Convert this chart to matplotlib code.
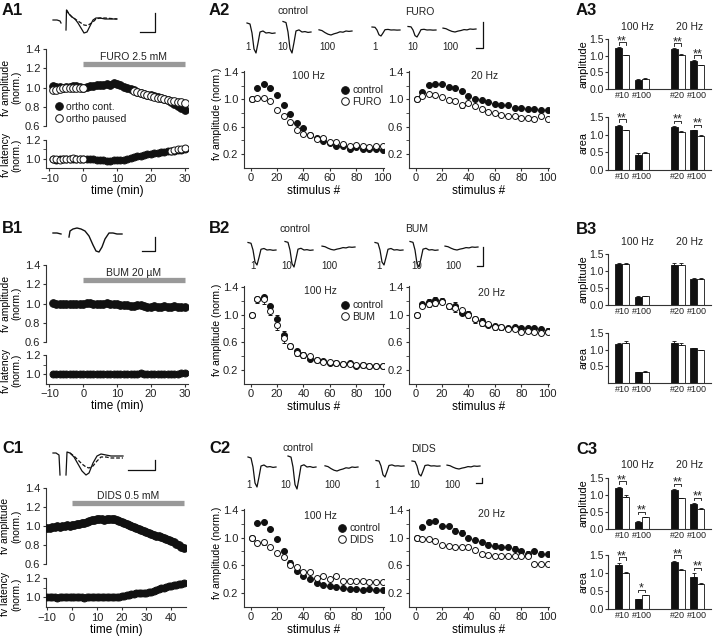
import numpy as np
import matplotlib
matplotlib.use("Agg")
import matplotlib.pyplot as plt
from matplotlib.lines import Line2D
from matplotlib.ticker import FormatStrFormatter

plt.rcParams.update({
    "font.family": ["Liberation Sans", "DejaVu Sans"],
    "font.size": 7,
    "axes.linewidth": 0.8,
    "axes.edgecolor": "#333333",
    "xtick.color": "#333333",
    "ytick.color": "#333333",
    "xtick.labelcolor": "#222222",
    "ytick.labelcolor": "#222222",
    "xtick.labelsize": 8,
    "ytick.labelsize": 8,
    "xtick.major.size": 2.5,
    "ytick.major.size": 2.5,
    "ytick.minor.size": 2.5,
    "xtick.major.pad": 1.5,
    "ytick.major.pad": 1.5,
    "text.color": "#222222",
})

# ---------------- data ----------------
# time courses (min)
a1_time = list(range(-9, 31))
a1_cont = [1.02, 1.01, 1.01, 1.00, 1.01, 1.01, 1.02, 1.02, 1.01, 1.00,
           1.01, 1.02, 1.02, 1.03, 1.03, 1.03, 1.04, 1.03, 1.05, 1.04,
           1.03, 1.01, 0.99, 0.98, 0.97, 0.95, 0.94, 0.93, 0.92, 0.92,
           0.91, 0.90, 0.89, 0.88, 0.87, 0.85, 0.83, 0.81, 0.79, 0.77]
a1_cont_err = [0.01] * 20 + [0.02, 0.02, 0.02, 0.02, 0.02, 0.03, 0.02, 0.03, 0.03, 0.02,
                             0.03, 0.03, 0.02, 0.03, 0.03, 0.03, 0.03, 0.03, 0.03, 0.03]
a1_paused_time = [-9, -8, -7, -6, -5, -4, -3, -2, -1, 0,
                  15, 16, 17, 18, 19, 20, 21, 22, 23, 24, 25, 26, 27, 28, 29, 30]
a1_paused = [0.97, 0.97, 0.98, 0.99, 0.99, 0.99, 1.00, 1.00, 1.00, 1.00,
             0.96, 0.95, 0.94, 0.93, 0.92, 0.91, 0.90, 0.89, 0.89, 0.88,
             0.87, 0.86, 0.86, 0.85, 0.85, 0.84]
a1_paused_err = [0.01] * 10 + [0.03] * 16
a1_lat_cont = [1.00, 0.99, 1.00, 1.00, 1.00, 1.00, 1.00, 1.00, 1.00, 1.00,
               1.00, 1.00, 1.00, 0.99, 0.99, 0.99, 0.98, 0.98, 0.99, 0.99,
               0.99, 0.99, 1.00, 1.01, 1.02, 1.03, 1.03, 1.04, 1.05, 1.05,
               1.06, 1.06, 1.07, 1.07, 1.08, 1.08, 1.08, 1.09, 1.09, 1.10]
a1_lat_paused_time = [-9, -8, -7, -6, -5, -4, -3, -2, -1, 0, 26, 27, 28, 29, 30]
a1_lat_paused = [1.00, 1.00, 0.99, 1.00, 1.00, 1.00, 1.01, 1.00, 1.00, 1.00,
                 1.08, 1.09, 1.10, 1.10, 1.11]

b1_time = list(range(-9, 31))
b1_amp = [1.01, 1.00, 0.99, 1.00, 1.00, 0.99, 1.00, 1.00, 1.00, 1.00,
          1.01, 1.01, 1.00, 1.00, 1.00, 1.00, 1.01, 1.00, 0.99, 0.99,
          0.98, 0.98, 0.98, 0.97, 0.97, 0.98, 0.98, 0.97, 0.96, 0.96,
          0.97, 0.96, 0.96, 0.97, 0.96, 0.96, 0.97, 0.96, 0.96, 0.96]
b1_lat = [1.00, 1.00, 1.00, 1.00, 1.00, 1.00, 1.00, 1.00, 1.00, 1.00,
          1.00, 1.00, 1.00, 1.00, 1.00, 1.00, 1.00, 1.00, 1.00, 1.00,
          1.00, 1.00, 1.00, 1.00, 1.00, 1.00, 1.01, 1.00, 1.00, 1.00,
          1.00, 1.00, 1.00, 1.00, 1.00, 1.00, 1.00, 1.00, 1.01, 1.01]

c1_time = list(range(-10, 46))
c1_amp = [0.98, 0.98, 0.99, 0.99, 1.00, 0.99, 1.00, 1.00, 1.01, 1.00,
          1.01, 1.01, 1.02, 1.02, 1.03, 1.03, 1.04, 1.05, 1.06, 1.06,
          1.07, 1.07, 1.07, 1.06, 1.07, 1.07, 1.07, 1.07, 1.06, 1.05,
          1.04, 1.03, 1.02, 1.01, 1.00, 0.99, 0.98, 0.97, 0.96, 0.95,
          0.94, 0.93, 0.92, 0.91, 0.90, 0.89, 0.88, 0.87, 0.86, 0.85,
          0.84, 0.83, 0.81, 0.80, 0.78, 0.77]
c1_lat = [1.00, 1.00, 1.00, 1.00, 0.99, 1.00, 1.00, 1.00, 1.00, 1.00,
          1.00, 1.00, 1.00, 1.00, 1.00, 0.99, 1.00, 1.00, 1.00, 1.00,
          1.00, 1.00, 1.00, 1.00, 1.00, 1.00, 1.00, 1.00, 1.00, 1.00,
          1.01, 1.01, 1.02, 1.02, 1.03, 1.03, 1.04, 1.04, 1.05, 1.05,
          1.05, 1.06, 1.06, 1.07, 1.08, 1.09, 1.10, 1.10, 1.11, 1.12,
          1.12, 1.13, 1.13, 1.14, 1.14, 1.15]

# stimulus trains
stim = [1, 5, 10, 15, 20, 25, 30, 35, 40, 45, 50, 55, 60, 65, 70, 75, 80, 85, 90, 95, 100]

a2_100_ctrl = [1.00, 1.17, 1.23, 1.17, 1.06, 0.91, 0.78, 0.65, 0.58, 0.48, 0.43,
               0.39, 0.36, 0.32, 0.32, 0.28, 0.31, 0.28, 0.27, 0.27, 0.26]
a2_100_drug = [1.00, 1.02, 1.02, 0.97, 0.84, 0.75, 0.67, 0.55, 0.50, 0.48, 0.42,
               0.43, 0.38, 0.38, 0.35, 0.32, 0.33, 0.32, 0.30, 0.32, 0.32]
a2_20_ctrl = [1.00, 1.11, 1.21, 1.22, 1.22, 1.18, 1.16, 1.12, 1.05, 1.01, 0.99,
              0.96, 0.93, 0.92, 0.92, 0.88, 0.88, 0.86, 0.86, 0.84, 0.85]
a2_20_drug = [1.00, 1.05, 1.08, 1.06, 1.03, 0.99, 0.98, 0.92, 0.94, 0.90, 0.86,
              0.81, 0.80, 0.77, 0.75, 0.75, 0.73, 0.73, 0.71, 0.75, 0.71]
a2_100_ctrl_err = [0, 0.02, 0.03, 0.02, 0.02, 0.03, 0.04, 0.04, 0.03, 0.02, 0.02,
                   0.02, 0.02, 0.02, 0.02, 0.02, 0.02, 0.02, 0.02, 0.02, 0.02]
a2_100_drug_err = [0, 0.02, 0.02, 0.02, 0.03, 0.03, 0.05, 0.03, 0.02, 0.02, 0.02,
                   0.02, 0.02, 0.02, 0.02, 0.02, 0.02, 0.02, 0.02, 0.02, 0.02]
a2_20_ctrl_err = [0, 0.02, 0.02, 0.01, 0.01, 0.01, 0.02, 0.02, 0.02, 0.01, 0.01,
                  0.01, 0.01, 0.01, 0.01, 0.01, 0.01, 0.01, 0.01, 0.01, 0.01]
a2_20_drug_err = [0, 0.02, 0.03, 0.02, 0.02, 0.02, 0.03, 0.05, 0.03, 0.02, 0.02,
                  0.02, 0.02, 0.02, 0.02, 0.02, 0.02, 0.02, 0.02, 0.02, 0.02]

b2_100_ctrl = [1.00, 1.22, 1.25, 1.12, 0.94, 0.71, 0.54, 0.47, 0.42, 0.36, 0.35,
               0.33, 0.30, 0.30, 0.28, 0.30, 0.26, 0.27, 0.26, 0.26, 0.26]
b2_100_drug = [1.00, 1.22, 1.22, 1.05, 0.85, 0.66, 0.55, 0.45, 0.42, 0.40, 0.34,
               0.32, 0.31, 0.30, 0.28, 0.28, 0.27, 0.27, 0.26, 0.26, 0.26]
b2_20_ctrl = [1.00, 1.15, 1.18, 1.21, 1.20, 1.12, 1.13, 1.03, 1.01, 0.93, 0.91,
              0.85, 0.84, 0.82, 0.80, 0.82, 0.81, 0.80, 0.80, 0.79, 0.77]
b2_20_drug = [1.00, 1.12, 1.15, 1.17, 1.19, 1.12, 1.09, 1.06, 1.00, 0.94, 0.88,
              0.86, 0.82, 0.82, 0.79, 0.79, 0.75, 0.76, 0.75, 0.74, 0.75]
b2_100_ctrl_err = [0, 0.04, 0.04, 0.04, 0.05, 0.05, 0.04, 0.04, 0.04, 0.03, 0.03,
                   0.03, 0.02, 0.02, 0.02, 0.02, 0.02, 0.02, 0.02, 0.02, 0.02]
b2_100_drug_err = [0, 0.05, 0.06, 0.06, 0.07, 0.07, 0.05, 0.05, 0.04, 0.03, 0.03,
                   0.03, 0.02, 0.02, 0.02, 0.02, 0.02, 0.02, 0.02, 0.02, 0.02]
b2_20_ctrl_err = [0, 0.03, 0.04, 0.04, 0.04, 0.04, 0.05, 0.04, 0.04, 0.04, 0.04,
                  0.04, 0.03, 0.03, 0.03, 0.03, 0.03, 0.03, 0.03, 0.03, 0.03]
b2_20_drug_err = [0, 0.03, 0.04, 0.04, 0.04, 0.04, 0.05, 0.06, 0.05, 0.06, 0.05,
                  0.04, 0.04, 0.04, 0.03, 0.03, 0.03, 0.03, 0.03, 0.03, 0.03]

c2_100_ctrl = [1.00, 1.21, 1.22, 1.12, 0.98, 0.80, 0.64, 0.52, 0.45, 0.40, 0.35,
               0.32, 0.30, 0.28, 0.27, 0.26, 0.26, 0.25, 0.26, 0.24, 0.24]
c2_100_drug = [1.00, 0.92, 0.94, 0.87, 0.78, 0.72, 0.61, 0.58, 0.50, 0.50, 0.41,
               0.44, 0.40, 0.44, 0.38, 0.38, 0.37, 0.38, 0.36, 0.36, 0.36]
c2_20_ctrl = [1.00, 1.16, 1.22, 1.24, 1.17, 1.17, 1.10, 1.07, 0.99, 0.96, 0.93,
              0.89, 0.88, 0.86, 0.86, 0.84, 0.81, 0.77, 0.81, 0.77, 0.76]
c2_20_drug = [1.00, 0.98, 0.98, 0.95, 0.89, 0.88, 0.87, 0.86, 0.86, 0.82, 0.76,
              0.75, 0.73, 0.73, 0.73, 0.73, 0.73, 0.73, 0.62, 0.62, 0.62]
c2_100_ctrl_err = [0, 0.03, 0.04, 0.04, 0.03, 0.04, 0.03, 0.03, 0.03, 0.02, 0.02,
                   0.02, 0.02, 0.01, 0.01, 0.01, 0.01, 0.01, 0.01, 0.01, 0.01]
c2_100_drug_err = [0, 0.03, 0.04, 0.03, 0.03, 0.03, 0.02, 0.02, 0.02, 0.02, 0.02,
                   0.02, 0.02, 0.02, 0.02, 0.02, 0.02, 0.02, 0.02, 0.02, 0.02]
c2_20_ctrl_err = [0, 0.02, 0.02, 0.02, 0.03, 0.03, 0.04, 0.04, 0.04, 0.04, 0.04,
                  0.04, 0.04, 0.03, 0.04, 0.04, 0.03, 0.03, 0.03, 0.03, 0.03]
c2_20_drug_err = [0, 0.02, 0.02, 0.02, 0.02, 0.02, 0.03, 0.03, 0.03, 0.03, 0.02,
                  0.02, 0.02, 0.02, 0.02, 0.02, 0.03, 0.02, 0.02, 0.02, 0.02]

# bar summaries: 100 Hz #10, #100, 20 Hz #20, #100
bar_labels = ["#10", "#100", "#20", "#100"]
a3_amp_ctrl = [1.22, 0.27, 1.20, 0.84]
a3_amp_drug = [1.02, 0.31, 1.03, 0.71]
a3_amp_ctrl_err = [0.03, 0.02, 0.02, 0.02]
a3_amp_drug_err = [0.01, 0.02, 0.03, 0.01]
a3_area_ctrl = [1.25, 0.43, 1.22, 1.12]
a3_area_drug = [1.12, 0.47, 1.07, 0.97]
a3_area_ctrl_err = [0.03, 0.05, 0.02, 0.01]
a3_area_drug_err = [0.01, 0.03, 0.02, 0.01]
a3_amp_sig = ["**", "", "**", "**"]
a3_area_sig = ["**", "", "**", "**"]

b3_amp_ctrl = [1.21, 0.25, 1.19, 0.77]
b3_amp_drug = [1.20, 0.26, 1.19, 0.76]
b3_amp_ctrl_err = [0.02, 0.01, 0.04, 0.01]
b3_amp_drug_err = [0.04, 0.01, 0.05, 0.03]
b3_area_ctrl = [1.17, 0.32, 1.21, 1.04]
b3_area_drug = [1.21, 0.34, 1.15, 0.98]
b3_area_ctrl_err = [0.02, 0.02, 0.04, 0.01]
b3_area_drug_err = [0.05, 0.03, 0.04, 0.02]
b3_amp_sig = ["", "", "", ""]
b3_area_sig = ["", "", "", ""]

c3_amp_ctrl = [1.21, 0.22, 1.16, 0.74]
c3_amp_drug = [0.95, 0.35, 0.90, 0.60]
c3_amp_ctrl_err = [0.04, 0.01, 0.02, 0.03]
c3_amp_drug_err = [0.04, 0.01, 0.01, 0.01]
c3_area_ctrl = [1.23, 0.27, 1.30, 0.88]
c3_area_drug = [1.00, 0.38, 1.07, 0.70]
c3_area_ctrl_err = [0.06, 0.02, 0.04, 0.12]
c3_area_drug_err = [0.02, 0.01, 0.03, 0.02]
c3_amp_sig = ["**", "**", "**", "**"]
c3_area_sig = ["**", "*", "**", "**"]

# example fibre volley traces (px offsets, positive = downward)
a1_tr_x = [0, 4, 7, 8, np.nan, 13, 13.5, 16, 19, 22, 25, 28, 31, 34, 37, 40, 43, 47, 52, 58, 64]
a1_tr_solid = [0, 0, 1, 3, np.nan, 10, -10, -6, -3, -1, 3, 8, 13, 12, 6, 0, -2, -2, -1, -1, -1]
a1_tr_dash = [np.nan, np.nan, np.nan, np.nan, np.nan, np.nan, -10, -6, -3, -1, 1, 3, 5, 5.5, 4, 2, -1, -2, -2, -1.5, -1]
b1_tr_x = [0, 4, 8, np.nan, 16, 17, 20, 24, 28, 32, 36, 40, 43, 46, 49, 52, 56, 60, 64, 69]
b1_tr = [0, 0, 1, np.nan, 4, -2, -4, -5, -4, -2, 3, 12, 18, 19, 14, 6, 0, 0, 1, 1]
c1_tr_x = [0, 3, 6, 7, np.nan, 13, 14, 17, 21, 25, 29, 33, 36, 40, 44, 48, 53, 58, 64, 70]
c1_tr_solid = [-2, -2, 0, 20, np.nan, 20, -3, -2, 2, 9, 16, 20, 18, 8, 1, -1, 0, 1, 1, 1]
c1_tr_dash = [np.nan] * 7 + [-2, 1, 5, 9, 12, 13, 11, 6, 2, 2, 3, 3, 3]

spike_x = [0, 3, 5, 7, 9, 11, 13, 16, 19, 22, 25, 28]
spike_shape = [0.5, 0.45, 0.0, -0.8, -1.0, -0.5, 0.05, 0.1, 0.0, 0.02, -0.02, 0.0]
late_x = [0, 3, 6, 9, 12, 15, 18, 21, 24, 27, 30, 33]
late_shape = [0.3, 0.1, -0.4, -0.8, -1.0, -0.7, -0.5, -0.2, -0.3, 0.0, -0.1, 0.0]
a2_trace_depth = [20, 21, 4, 6, 7, 3]
b2_trace_depth = [15, 17, 3, 15, 17, 3]
c2_trace_depth = [20, 22, 4, 11, 10, 3]

# ---------------- figure ----------------
W, H = 714, 637
fig = plt.figure(figsize=(W / 100, H / 100), dpi=100)

ov = fig.add_axes([0, 0, 1, 1])
ov.set_xlim(0, W)
ov.set_ylim(H, 0)
ov.axis("off")


def add_px(x0, y0, x1, y1):
    ax = fig.add_axes([x0 / W, 1 - y1 / H, (x1 - x0) / W, (y1 - y0) / H])
    ax.set_facecolor("none")
    ax.spines["top"].set_visible(False)
    ax.spines["right"].set_visible(False)
    return ax


def series(ax, x, y, err, filled, ms=5.5, label=None, sym=True):
    err = np.asarray(err, dtype=float)
    if sym:
        yerr = err
    elif filled:
        yerr = [np.zeros_like(err), err]
    else:
        yerr = [err, np.zeros_like(err)]
    ax.errorbar(x, y, yerr=yerr, fmt="o", ms=ms, mfc="#111111" if filled else "white",
                mec="#111111", mew=0.7, ecolor="#111111", elinewidth=0.6,
                capsize=1.5, capthick=0.6, label=label, zorder=3 if filled else 4)


def time_course(box, lat_box, xlim, xticks, amp_sets, lat_sets, drug, drug_end, ylabx):
    x0, x1 = box[0], box[1]
    ax = add_px(x0, box[2], x1, box[3])
    ax.spines["bottom"].set_visible(False)
    ax.set_xticks([])
    ax.set_xlim(xlim)
    ax.set_ylim(0.6, 1.4)
    ax.set_yticks([0.6, 0.8, 1.0, 1.2, 1.4])
    ax.yaxis.set_major_formatter(FormatStrFormatter("%.1f"))
    for s in amp_sets:
        series(ax, *s)
    ax.plot([0, drug_end], [1.24, 1.24], color="#999999", lw=3.8, solid_capstyle="butt")
    ax.text(drug_end / 2, 1.315, drug, ha="center", va="center", fontsize=7.5)
    ax.set_ylabel("fv amplitude\n(norm.)", fontsize=7.5, linespacing=1.15)
    ax.yaxis.set_label_coords(ylabx, 0.5)

    lx = add_px(x0, lat_box[0], x1, lat_box[1])
    lx.set_xlim(xlim)
    lx.set_ylim(0.9, 1.2)
    lx.set_yticks([1.0, 1.2])
    lx.set_yticks([1.1], minor=True)
    lx.yaxis.set_major_formatter(FormatStrFormatter("%.1f"))
    lx.set_xticks(xticks)
    for s in lat_sets:
        series(lx, *s)
    lx.set_ylabel("fv latency\n(norm.)", fontsize=7.5, linespacing=1.15)
    lx.yaxis.set_label_coords(ylabx, 0.45)
    lx.set_xlabel("time (min)", fontsize=8.5, labelpad=1)
    return ax, lx


def stim_panel(x0, x1, top, bot, ctrl, drug, cerr, derr, ylabel=False):
    ax = add_px(x0, top, x1, bot)
    ax.set_xlim(-5, 101)
    ax.set_ylim(0, 1.42)
    ax.set_yticks([0.2, 0.6, 1.0, 1.4])
    ax.set_yticks([0.4, 0.8, 1.2], minor=True)
    ax.yaxis.set_major_formatter(FormatStrFormatter("%.1f"))
    ax.set_xticks([0, 20, 40, 60, 80, 100])
    series(ax, stim, ctrl, cerr, True, ms=4.3, sym=False)
    series(ax, stim, drug, derr, False, ms=4.3, sym=False)
    ax.set_xlabel("stimulus #", fontsize=8.5, labelpad=1)
    if ylabel:
        ax.set_ylabel("fv amplitude (norm.)", fontsize=7.5)
        ax.yaxis.set_label_coords(-0.16, 0.55)
    return ax


bar_x = np.array([0, 1, 2.85, 3.85])
bw = 0.36


def bar_panel(top, bot, ctrl, drug, cerr, derr, sig, ylabel, yticks):
    ax = add_px(608, top, 711, bot)
    ax.set_xlim(-0.72, 4.55)
    ax.set_ylim(0, 1.5)
    ax.bar(bar_x - bw / 2, ctrl, bw, color="#111111", edgecolor="#111111", lw=0.6)
    ax.bar(bar_x + bw / 2, drug, bw, color="white", edgecolor="#111111", lw=0.6)
    z = np.zeros(4)
    ax.errorbar(bar_x - bw / 2, ctrl, yerr=[z, cerr], fmt="none", ecolor="#111111",
                elinewidth=0.6, capsize=1.3, capthick=0.6)
    ax.errorbar(bar_x + bw / 2, drug, yerr=[z, derr], fmt="none", ecolor="#111111",
                elinewidth=0.6, capsize=1.3, capthick=0.6)
    for i, s in enumerate(sig):
        if not s:
            continue
        yb = max(ctrl[i] + cerr[i], drug[i] + derr[i]) + 0.15
        xa, xb = bar_x[i] - bw / 2, bar_x[i] + bw / 2
        ax.plot([xa, xa, xb, xb], [yb - 0.07, yb, yb, yb - 0.07], color="#111111",
                lw=0.6, clip_on=False)
        ax.text(bar_x[i], yb - 0.05, s, ha="center", va="baseline", fontsize=9, clip_on=False)
    ax.set_yticks(yticks)
    ax.yaxis.set_major_formatter(FormatStrFormatter("%.1f"))
    ax.tick_params(axis="y", labelsize=7.5, length=2, pad=1)
    ax.set_xticks(bar_x)
    ax.set_xticklabels(bar_labels, fontsize=6.5)
    ax.tick_params(axis="x", length=0, pad=1.5)
    ax.set_ylabel(ylabel, fontsize=7.8)
    ax.yaxis.set_label_coords(-0.19, 0.5)
    return ax


def legend(ax, labels, anchor, ms=5.5):
    handles = [Line2D([], [], ls="none", marker="o", ms=ms, mfc="#111111", mec="#111111", mew=0.7),
               Line2D([], [], ls="none", marker="o", ms=ms, mfc="white", mec="#111111", mew=0.7)]
    ax.legend(handles, labels, loc="upper left", bbox_to_anchor=anchor, frameon=False,
              fontsize=7.5, handlelength=0.8, handletextpad=0.3, borderpad=0,
              borderaxespad=0, labelspacing=0.15)


# ---------------- row A ----------------
amp, lat = time_course((46, 188, 49, 126), (140, 168), (-11, 31), [-10, 0, 10, 20, 30],
                       [(a1_time, a1_cont, a1_cont_err, True, 5.5, "ortho cont."),
                        (a1_paused_time, a1_paused, a1_paused_err, False, 5.5, "ortho paused")],
                       [(a1_time, a1_lat_cont, [0.005] * 40, True, 5),
                        (a1_lat_paused_time, a1_lat_paused, [0.005] * 15, False, 5)],
                       "FURO 2.5 mM", 30, -0.17)
legend(amp, ["ortho cont.", "ortho paused"], (0.06, 0.31))

ax = stim_panel(244, 384, 70.6, 167.7, a2_100_ctrl, a2_100_drug, a2_100_ctrl_err, a2_100_drug_err, True)
legend(ax, ["control", "FURO"], (0.69, 0.85))
stim_panel(409, 549, 70.6, 167.7, a2_20_ctrl, a2_20_drug, a2_20_ctrl_err, a2_20_drug_err)

bar_panel(39, 89, a3_amp_ctrl, a3_amp_drug, a3_amp_ctrl_err, a3_amp_drug_err, a3_amp_sig,
          "amplitude", [0, 0.5, 1.0, 1.5])
bar_panel(117, 170, a3_area_ctrl, a3_area_drug, a3_area_ctrl_err, a3_area_drug_err, a3_area_sig,
          "area", [0, 0.5, 1.0, 1.5])

# ---------------- row B ----------------
time_course((46, 188, 265, 342), (355, 383.5), (-11, 31), [-10, 0, 10, 20, 30],
            [(b1_time, b1_amp, [0.01] * 40, True, 5.5)],
            [(b1_time, b1_lat, [0.005] * 40, True, 5)],
            "BUM 20 \u00b5M", 30, -0.17)

ax = stim_panel(244, 384, 285.6, 383.8, b2_100_ctrl, b2_100_drug, b2_100_ctrl_err, b2_100_drug_err, True)
legend(ax, ["control", "BUM"], (0.69, 0.85))
stim_panel(409, 549, 285.6, 383.8, b2_20_ctrl, b2_20_drug, b2_20_ctrl_err, b2_20_drug_err)

bar_panel(254, 305, b3_amp_ctrl, b3_amp_drug, b3_amp_ctrl_err, b3_amp_drug_err, b3_amp_sig,
          "amplitude", [0, 0.5, 1.0, 1.5])
bar_panel(333, 383, b3_area_ctrl, b3_area_drug, b3_area_ctrl_err, b3_area_drug_err, b3_area_sig,
          "area", [0.5, 1.0, 1.5])

# ---------------- row C ----------------
time_course((46, 186, 488, 564), (578, 607), (-10.5, 46), [-10, 0, 10, 20, 30, 40],
            [(c1_time, c1_amp, [0.01] * 56, True, 5.5)],
            [(c1_time, c1_lat, [0.005] * 56, True, 5)],
            "DIDS 0.5 mM", 45, -0.175)

ax = stim_panel(244, 384, 508.6, 606.8, c2_100_ctrl, c2_100_drug, c2_100_ctrl_err, c2_100_drug_err, True)
legend(ax, ["control", "DIDS"], (0.67, 0.85))
stim_panel(409, 549, 508.6, 606.8, c2_20_ctrl, c2_20_drug, c2_20_ctrl_err, c2_20_drug_err)

bar_panel(478, 529, c3_amp_ctrl, c3_amp_drug, c3_amp_ctrl_err, c3_amp_drug_err, c3_amp_sig,
          "amplitude", [0, 0.5, 1.0, 1.5])
bar_panel(555, 609, c3_area_ctrl, c3_area_drug, c3_area_ctrl_err, c3_area_drug_err, c3_area_sig,
          "area", [0, 0.5, 1.0, 1.5])

# ---------------- overlay: labels, traces, scale bars ----------------
for txt, x, y in [("A1", 2, 3), ("A2", 209, 3), ("A3", 576, 3),
                  ("B1", 2, 221), ("B2", 209, 221), ("B3", 576, 222),
                  ("C1", 2, 441), ("C2", 209, 441), ("C3", 576, 442)]:
    ov.text(x, y, txt, fontsize=12, fontweight="bold", ha="left", va="top", color="#111111")

for txt, x, y in [("100 Hz", 308, 76), ("20 Hz", 485, 76), ("100 Hz", 320, 291), ("20 Hz", 492, 293),
                  ("100 Hz", 320, 516), ("20 Hz", 492, 514),
                  ("100 Hz", 637, 27), ("20 Hz", 690, 27), ("100 Hz", 637, 242), ("20 Hz", 690, 242),
                  ("100 Hz", 637, 465), ("20 Hz", 690, 465)]:
    ov.text(x, y, txt, fontsize=7.5, ha="center", va="center")

# big traces
tx = np.array(a1_tr_x) + 53
ov.plot(tx, 20 + np.array(a1_tr_solid), color="#111111", lw=0.9)
ov.plot(tx, 20 + np.array(a1_tr_dash), color="#111111", lw=0.9, ls=(0, (3, 1.5)))
ov.plot(np.array(b1_tr_x) + 53, 233 + np.array(b1_tr), color="#111111", lw=1.0)
tx = np.array(c1_tr_x) + 53
ov.plot(tx, 455 + np.array(c1_tr_solid), color="#111111", lw=0.9)
ov.plot(tx, 455 + np.array(c1_tr_dash), color="#111111", lw=0.9, ls=(0, (3, 1.5)))

# small traces
trace_rows = [
    (a2_trace_depth, [247, 283, 319, 372, 408, 443], [33, 32, 31, 30, 30, 29],
     [("1", 248), ("10", 283), ("100", 327), ("1", 375), ("10", 413), ("100", 450)], 47,
     [("control", 293, 11), ("FURO", 420, 12)]),
    (b2_trace_depth, [248, 285, 322, 375, 410, 445], [250, 250, 247, 250, 250, 247],
     [("1", 253), ("10", 287), ("100", 329), ("1", 379), ("10", 417), ("100", 453)], 266,
     [("control", 295, 229), ("BUM", 417, 229)]),
    (c2_trace_depth, [248, 288, 325, 376, 412, 447], [467, 467, 467, 466, 466, 466],
     [("1", 249), ("10", 286), ("100", 332), ("1", 377), ("10", 415), ("100", 452)], 485,
     [("control", 298, 448), ("DIDS", 424, 449)]),
]
for depths, xs, ys, nums, ny, heads in trace_rows:
    for k, (d, x0, y0) in enumerate(zip(depths, xs, ys)):
        if k in (2, 5):
            ov.plot(x0 + np.array(late_x), y0 - d * np.array(late_shape), color="#111111", lw=0.9)
        else:
            ov.plot(x0 + np.array(spike_x), y0 - d * np.array(spike_shape), color="#111111", lw=0.9)
    for t, x in nums:
        ov.text(x, ny, t, fontsize=7, ha="center", va="center")
    for t, x, y in heads:
        ov.text(x, y, t, fontsize=7.5, ha="center", va="center")

# scale bars
for xv, ytop, ybot, xl in [(155, 13, 32, 140), (155, 237, 251, 142), (155, 460, 470, 128),
                           (483, 22, 48, 476), (483, 247, 266, 477), (482, 478, 483, 476)]:
    ov.plot([xl, xv, xv], [ybot, ybot, ytop], color="#111111", lw=0.9)

fig.savefig("out.png", dpi=100)
